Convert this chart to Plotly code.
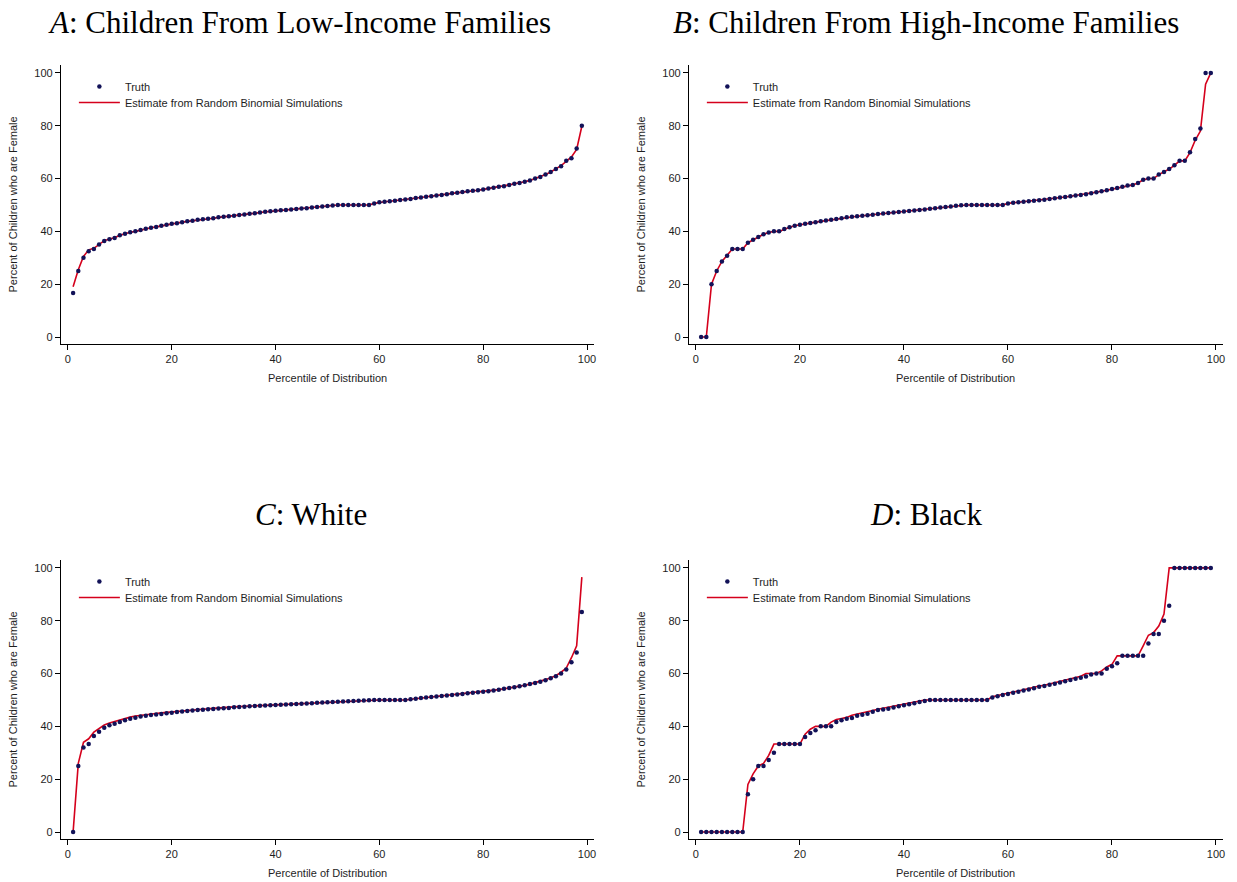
import plotly.graph_objects as go

# Percentiles of the distribution (1..99)
percentiles = list(range(1, 100))

# Panel A: children from low-income families
low_truth = [
    16.7, 25.0, 30.0, 32.5, 33.3, 35.0, 36.4, 37.0, 37.5, 38.5,
    39.1, 39.7, 40.0, 40.5, 41.0, 41.4, 41.7, 42.1, 42.5, 42.9,
    43.1, 43.5, 43.8, 44.0, 44.4, 44.6, 44.8, 45.0, 45.3, 45.5,
    45.7, 45.9, 46.2, 46.4, 46.7, 46.9, 47.1, 47.4, 47.6, 47.8,
    48.0, 48.1, 48.3, 48.5, 48.7, 48.8, 49.0, 49.2, 49.4, 49.6,
    49.8, 50.0, 50.0, 50.0, 50.0, 50.0, 50.0, 50.0, 50.6, 51.0,
    51.2, 51.4, 51.6, 51.9, 52.1, 52.3, 52.6, 52.8, 53.1, 53.3,
    53.6, 53.8, 54.1, 54.4, 54.6, 54.9, 55.2, 55.4, 55.6, 55.9,
    56.2, 56.5, 56.9, 57.1, 57.6, 58.0, 58.3, 58.8, 59.3, 60.0,
    60.6, 61.5, 62.5, 63.6, 64.7, 66.7, 67.7, 71.4, 80.0,
]
low_estimate = [
    19.0, 25.5, 30.5, 33.0, 33.6, 35.2, 36.5, 37.1, 37.6, 38.5,
    39.1, 39.7, 40.0, 40.5, 41.0, 41.4, 41.7, 42.1, 42.5, 42.9,
    43.1, 43.5, 43.8, 44.0, 44.4, 44.6, 44.8, 45.0, 45.3, 45.5,
    45.7, 45.9, 46.2, 46.4, 46.7, 46.9, 47.1, 47.4, 47.6, 47.8,
    48.0, 48.1, 48.3, 48.5, 48.7, 48.8, 49.0, 49.2, 49.4, 49.6,
    49.8, 50.0, 50.0, 50.0, 50.0, 50.0, 50.0, 50.0, 50.6, 51.0,
    51.2, 51.4, 51.6, 51.9, 52.1, 52.3, 52.6, 52.8, 53.1, 53.3,
    53.6, 53.8, 54.1, 54.4, 54.6, 54.9, 55.2, 55.4, 55.6, 55.9,
    56.2, 56.5, 56.9, 57.1, 57.6, 58.0, 58.3, 58.8, 59.3, 60.0,
    60.6, 61.5, 62.5, 63.6, 64.9, 66.5, 68.2, 71.0, 79.8,
]

# Panel B: children from high-income families
high_truth = [
    0.0, 0.0, 20.0, 25.0, 28.6, 30.8, 33.3, 33.3, 33.3, 35.7,
    36.8, 37.9, 38.9, 39.6, 40.0, 40.0, 40.9, 41.6, 42.1, 42.5,
    42.9, 43.2, 43.5, 43.8, 44.1, 44.4, 44.7, 45.0, 45.3, 45.5,
    45.7, 45.9, 46.1, 46.3, 46.6, 46.8, 47.0, 47.1, 47.3, 47.5,
    47.7, 47.9, 48.1, 48.3, 48.6, 48.8, 49.0, 49.2, 49.4, 49.7,
    49.9, 50.0, 50.0, 50.0, 50.0, 50.0, 50.0, 50.0, 50.0, 50.6,
    50.8, 51.0, 51.2, 51.4, 51.6, 51.8, 52.0, 52.3, 52.5, 52.8,
    53.0, 53.3, 53.6, 53.8, 54.1, 54.4, 54.8, 55.2, 55.6, 56.0,
    56.4, 56.9, 57.4, 57.6, 58.3, 59.5, 60.0, 60.0, 61.5, 62.5,
    63.6, 65.0, 66.7, 66.7, 70.0, 75.0, 79.0, 100.0, 100.0,
]
high_estimate = [
    0.0, 0.0, 20.0, 25.0, 28.6, 30.8, 33.3, 33.3, 33.3, 35.7,
    36.8, 37.9, 38.9, 39.6, 40.0, 40.0, 40.9, 41.6, 42.1, 42.5,
    42.9, 43.2, 43.5, 43.8, 44.1, 44.4, 44.7, 45.0, 45.3, 45.5,
    45.7, 45.9, 46.1, 46.3, 46.6, 46.8, 47.0, 47.1, 47.3, 47.5,
    47.7, 47.9, 48.1, 48.3, 48.6, 48.8, 49.0, 49.2, 49.4, 49.7,
    49.9, 50.0, 50.0, 50.0, 50.0, 50.0, 50.0, 50.0, 50.0, 50.6,
    50.8, 51.0, 51.2, 51.4, 51.6, 51.8, 52.0, 52.3, 52.5, 52.8,
    53.0, 53.3, 53.6, 53.8, 54.1, 54.4, 54.8, 55.2, 55.6, 56.0,
    56.4, 56.9, 57.4, 57.6, 58.3, 59.5, 60.0, 60.0, 61.5, 62.5,
    63.6, 65.0, 66.7, 66.7, 69.8, 74.5, 78.0, 95.7, 100.0,
]

# Panel C: white children
white_truth = [
    0.0, 25.0, 32.0, 33.3, 36.4, 38.0, 39.5, 40.4, 41.0, 41.7,
    42.3, 42.9, 43.3, 43.7, 44.0, 44.3, 44.5, 44.7, 45.0, 45.2,
    45.4, 45.6, 45.8, 46.0, 46.2, 46.3, 46.5, 46.6, 46.8, 46.9,
    47.0, 47.2, 47.3, 47.4, 47.6, 47.7, 47.8, 47.9, 48.0, 48.1,
    48.2, 48.3, 48.4, 48.5, 48.6, 48.7, 48.8, 48.9, 49.0, 49.1,
    49.2, 49.3, 49.4, 49.5, 49.6, 49.7, 49.8, 49.9, 50.0, 50.0,
    50.0, 50.0, 50.0, 50.0, 50.0, 50.3, 50.5, 50.7, 50.9, 51.1,
    51.3, 51.5, 51.7, 51.9, 52.1, 52.3, 52.5, 52.7, 52.9, 53.1,
    53.3, 53.6, 53.9, 54.2, 54.5, 54.8, 55.2, 55.6, 56.0, 56.4,
    56.9, 57.5, 58.2, 59.0, 60.0, 61.5, 64.3, 68.0, 83.3,
]
white_estimate = [
    0.0, 26.0, 34.0, 35.3, 37.8, 39.3, 40.5, 41.3, 41.9, 42.5,
    43.0, 43.5, 43.9, 44.2, 44.5, 44.7, 44.9, 45.1, 45.3, 45.5,
    45.6, 45.8, 46.0, 46.2, 46.4, 46.5, 46.7, 46.8, 47.0, 47.1,
    47.2, 47.4, 47.5, 47.6, 47.8, 47.8, 47.9, 48.0, 48.1, 48.2,
    48.3, 48.4, 48.5, 48.6, 48.7, 48.8, 48.9, 49.0, 49.1, 49.2,
    49.2, 49.3, 49.4, 49.5, 49.6, 49.7, 49.8, 49.9, 50.0, 50.0,
    50.0, 50.0, 50.0, 50.0, 50.0, 50.3, 50.5, 50.7, 50.9, 51.1,
    51.3, 51.5, 51.7, 51.9, 52.1, 52.3, 52.5, 52.7, 52.9, 53.1,
    53.3, 53.6, 53.9, 54.2, 54.5, 54.8, 55.2, 55.6, 56.0, 56.5,
    57.0, 57.7, 58.4, 59.2, 60.5, 62.1, 66.0, 70.5, 96.5,
]

# Panel D: black children
black_truth = [
    0.0, 0.0, 0.0, 0.0, 0.0, 0.0, 0.0, 0.0, 0.0, 14.3,
    20.0, 25.0, 25.0, 27.3, 30.0, 33.3, 33.3, 33.3, 33.3, 33.3,
    36.0, 37.5, 38.5, 40.0, 40.0, 40.0, 41.7, 42.3, 42.9, 43.2,
    44.0, 44.4, 44.8, 45.5, 46.2, 46.4, 46.7, 47.1, 47.6, 48.0,
    48.4, 48.8, 49.2, 49.6, 50.0, 50.0, 50.0, 50.0, 50.0, 50.0,
    50.0, 50.0, 50.0, 50.0, 50.0, 50.0, 50.9, 51.4, 51.9, 52.3,
    52.7, 53.1, 53.6, 54.0, 54.4, 55.0, 55.3, 55.8, 56.1, 56.6,
    57.1, 57.6, 58.0, 58.4, 58.9, 59.6, 60.0, 60.0, 61.8, 62.8,
    63.9, 66.7, 66.7, 66.7, 66.7, 66.7, 71.4, 75.0, 75.0, 80.0,
    85.7, 100.0, 100.0, 100.0, 100.0, 100.0, 100.0, 100.0, 100.0,
]
black_estimate = [
    0.0, 0.0, 0.0, 0.0, 0.0, 0.0, 0.0, 0.0, 0.0, 18.0,
    22.0, 25.0, 26.0, 29.0, 33.3, 33.3, 33.3, 33.3, 33.3, 33.3,
    37.0, 38.9, 40.0, 40.0, 40.0, 41.6, 42.6, 43.0, 43.4, 44.2,
    44.6, 45.2, 45.6, 46.0, 46.5, 46.9, 47.3, 47.7, 48.1, 48.5,
    48.9, 49.3, 49.7, 50.0, 50.0, 50.0, 50.0, 50.0, 50.0, 50.0,
    50.0, 50.0, 50.0, 50.0, 50.0, 50.0, 51.2, 51.7, 52.1, 52.6,
    53.0, 53.4, 53.9, 54.3, 54.7, 55.3, 55.6, 56.1, 56.5, 56.9,
    57.4, 57.9, 58.4, 59.0, 60.0, 60.0, 60.0, 61.0, 62.5, 63.5,
    66.7, 66.7, 66.7, 66.7, 66.7, 70.5, 74.5, 75.5, 78.0, 82.5,
    100.0, 100.0, 100.0, 100.0, 100.0, 100.0, 100.0, 100.0, 100.0,
]

panel_titles = [
    "<i>A</i>: Children From Low-Income Families",
    "<i>B</i>: Children From High-Income Families",
    "<i>C</i>: White",
    "<i>D</i>: Black",
]
x_title = "Percentile of Distribution"
y_title = "Percent of Children who are Female"
truth_name = "Truth"
estimate_name = "Estimate from Random Binomial Simulations"
tick_values = [0, 20, 40, 60, 80, 100]

W, H = 1237, 882
NAVY = "#121258"
RED = "#d5001c"
TEXT = "#1e1e1e"

# pixel boxes of each plot area: (left, right, top, bottom)
boxes = [
    (61, 595, 65, 344),
    (690, 1225, 65, 344),
    (61, 595, 560, 839),
    (690, 1225, 560, 839),
]
title_pos = [(300, 23), (928, 23), (312, 514), (928, 514)]

series = [
    (low_truth, low_estimate),
    (high_truth, high_estimate),
    (white_truth, white_estimate),
    (black_truth, black_estimate),
]

legend_font = dict(size=11, color=TEXT, family="Liberation Sans")


def legend_box(left, top):
    # one-entry legend anchored at a pixel position
    return dict(
        x=left / W, y=1 - top / H, xanchor="left", yanchor="top",
        bgcolor="rgba(0,0,0,0)", borderwidth=0, itemwidth=41,
        font=legend_font,
    )


fig = go.Figure()
annotations = []
layout = {}

for i, ((truth, est), box) in enumerate(zip(series, boxes)):
    n = i + 1
    sfx = "" if n == 1 else str(n)
    l, r, t, b = box
    truth_legend = "legend" + ("" if n == 1 else str(2 * n - 1))
    est_legend = "legend" + str(2 * n)

    fig.add_trace(go.Scatter(
        x=percentiles, y=est, mode="lines", name=estimate_name,
        line=dict(color=RED, width=1.6),
        xaxis="x" + sfx, yaxis="y" + sfx, legend=est_legend,
    ))
    fig.add_trace(go.Scatter(
        x=percentiles, y=truth, mode="markers", name=truth_name,
        marker=dict(color=NAVY, size=4.5, line=dict(width=0)),
        xaxis="x" + sfx, yaxis="y" + sfx, legend=truth_legend,
    ))

    axis_common = dict(
        showline=True, linecolor="black", linewidth=1,
        ticks="outside", ticklen=5, tickcolor="black", tickwidth=1,
        showgrid=False, zeroline=False,
        tickvals=tick_values, tickfont=legend_font,
    )
    layout["xaxis" + sfx] = dict(
        axis_common, domain=[l / W, r / W], range=[-1.35, 101.35],
        anchor="y" + sfx,
    )
    layout["yaxis" + sfx] = dict(
        axis_common, domain=[1 - b / H, 1 - t / H], range=[-2.65, 103.0],
        anchor="x" + sfx,
    )
    layout[truth_legend] = legend_box(l + 13, t + 7)
    layout[est_legend] = legend_box(l + 13, t + 23)

    tx, ty = title_pos[i]
    annotations.append(dict(
        text=panel_titles[i], x=tx / W, y=1 - ty / H, xref="paper",
        yref="paper", xanchor="center", yanchor="middle", showarrow=False,
        font=dict(family="Liberation Serif", size=31, color="black"),
    ))
    annotations.append(dict(
        text=x_title, x=(l + r) / 2 / W, y=1 - (b + 34) / H, xref="paper",
        yref="paper", xanchor="center", yanchor="middle", showarrow=False,
        font=legend_font,
    ))
    annotations.append(dict(
        text=y_title, x=(l - 48) / W, y=1 - (t + b) / 2 / H, xref="paper",
        yref="paper", xanchor="center", yanchor="middle", showarrow=False,
        textangle=-90, font=legend_font,
    ))

fig.update_layout(
    width=W, height=H, margin=dict(l=0, r=0, t=0, b=0),
    paper_bgcolor="white", plot_bgcolor="white",
    font=dict(family="Liberation Sans", size=11, color=TEXT),
    showlegend=True, annotations=annotations, **layout,
)

fig.write_html("out.html")
